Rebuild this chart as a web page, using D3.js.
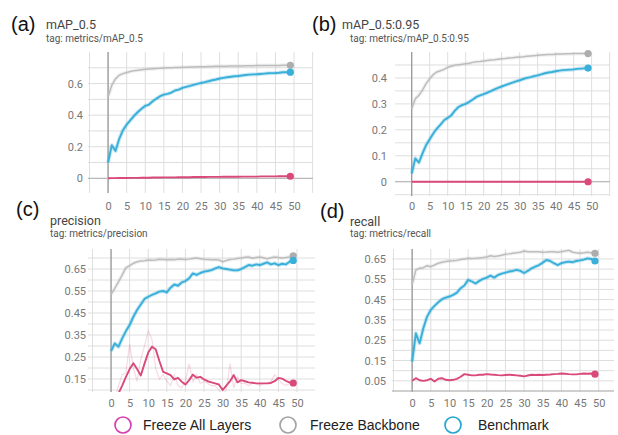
<!DOCTYPE html>
<html>
<head>
<meta charset="utf-8">
<script src="https://cdn.jsdelivr.net/npm/d3@7"></script>
<style>
  body { margin: 0; background: #fff; }
  svg { display: block; font-family: Roboto, "Liberation Sans", sans-serif; }
</style>
</head>
<body>
<svg id="chart" width="618" height="435"></svg>
<script>
// epochs 0..49
const epochs = d3.range(50);

// legend / series names
const seriesNames = ["Freeze All Layers", "Freeze Backbone", "Benchmark"];

// (a) mAP_0.5
const mapFreezeAll = [0.000, 0.001, 0.001, 0.002, 0.002, 0.002, 0.003, 0.003, 0.003, 0.004,
  0.004, 0.004, 0.005, 0.005, 0.005, 0.006, 0.006, 0.006, 0.006, 0.007,
  0.007, 0.007, 0.007, 0.008, 0.008, 0.008, 0.008, 0.009, 0.009, 0.009,
  0.009, 0.010, 0.010, 0.010, 0.010, 0.010, 0.011, 0.011, 0.011, 0.011,
  0.011, 0.012, 0.012, 0.012, 0.012, 0.012, 0.013, 0.013, 0.013, 0.013];
const mapBackbone = [0.516, 0.590, 0.630, 0.653, 0.663, 0.670, 0.677, 0.682, 0.685, 0.688,
  0.690, 0.692, 0.694, 0.696, 0.697, 0.699, 0.700, 0.701, 0.702, 0.702,
  0.703, 0.704, 0.705, 0.705, 0.706, 0.707, 0.707, 0.708, 0.708, 0.709,
  0.709, 0.710, 0.710, 0.711, 0.711, 0.712, 0.712, 0.713, 0.713, 0.713,
  0.714, 0.714, 0.714, 0.715, 0.715, 0.715, 0.715, 0.716, 0.716, 0.716];
const mapBenchmark = [0.100, 0.210, 0.173, 0.250, 0.305, 0.340, 0.368, 0.396, 0.420, 0.440,
  0.459, 0.467, 0.488, 0.505, 0.520, 0.530, 0.535, 0.543, 0.556, 0.562,
  0.573, 0.579, 0.585, 0.592, 0.598, 0.604, 0.609, 0.615, 0.621, 0.626,
  0.632, 0.636, 0.640, 0.643, 0.646, 0.648, 0.651, 0.654, 0.657, 0.658,
  0.659, 0.661, 0.663, 0.665, 0.666, 0.667, 0.669, 0.672, 0.672, 0.672];

// (b) mAP_0.5:0.95
const map95FreezeAll = [0.000, 0.000, 0.000, 0.000, 0.000, 0.000, 0.000, 0.000, 0.000, 0.000,
  0.000, 0.000, 0.000, 0.000, 0.000, 0.000, 0.000, 0.000, 0.000, 0.000,
  0.000, 0.000, 0.000, 0.000, 0.000, 0.000, 0.000, 0.000, 0.000, 0.000,
  0.000, 0.000, 0.000, 0.000, 0.000, 0.000, 0.000, 0.000, 0.000, 0.000,
  0.000, 0.000, 0.000, 0.000, 0.000, 0.000, 0.000, 0.000, 0.000, 0.000];
const map95Backbone = [0.282, 0.320, 0.333, 0.353, 0.378, 0.397, 0.413, 0.423, 0.428, 0.433,
  0.441, 0.445, 0.449, 0.451, 0.453, 0.455, 0.457, 0.460, 0.462, 0.463,
  0.465, 0.467, 0.469, 0.470, 0.472, 0.474, 0.475, 0.477, 0.478, 0.480,
  0.481, 0.482, 0.484, 0.485, 0.486, 0.487, 0.488, 0.489, 0.490, 0.490,
  0.491, 0.492, 0.492, 0.493, 0.493, 0.494, 0.494, 0.494, 0.494, 0.494];
const map95Benchmark = [0.032, 0.090, 0.074, 0.109, 0.141, 0.164, 0.186, 0.205, 0.220, 0.237,
  0.246, 0.256, 0.274, 0.288, 0.295, 0.300, 0.308, 0.317, 0.327, 0.333,
  0.338, 0.343, 0.349, 0.356, 0.362, 0.367, 0.372, 0.377, 0.382, 0.387,
  0.391, 0.396, 0.400, 0.403, 0.407, 0.410, 0.414, 0.418, 0.421, 0.423,
  0.426, 0.428, 0.430, 0.431, 0.432, 0.433, 0.435, 0.436, 0.437, 0.438];

// (c) precision
const precFreezeAll = [0.040, 0.060, 0.085, 0.120, 0.160, 0.195, 0.222, 0.195, 0.166, 0.220,
  0.270, 0.297, 0.285, 0.232, 0.183, 0.176, 0.168, 0.148, 0.155, 0.138,
  0.125, 0.145, 0.170, 0.156, 0.160, 0.148, 0.140, 0.135, 0.130, 0.125,
  0.100, 0.120, 0.140, 0.168, 0.135, 0.145, 0.140, 0.135, 0.133, 0.130,
  0.130, 0.130, 0.130, 0.132, 0.140, 0.155, 0.152, 0.142, 0.135, 0.132];
const precFreezeAllRaw = [0.020, 0.060, 0.120, 0.170, 0.180, 0.310, 0.200, 0.140, 0.240, 0.300,
  0.370, 0.330, 0.200, 0.150, 0.170, 0.140, 0.120, 0.170, 0.120, 0.110,
  0.140, 0.220, 0.140, 0.170, 0.130, 0.140, 0.130, 0.120, 0.120, 0.100,
  0.080, 0.100, 0.220, 0.110, 0.160, 0.130, 0.130, 0.120, 0.130, 0.130,
  0.120, 0.130, 0.130, 0.140, 0.170, 0.150, 0.130, 0.120, 0.130, 0.130];
const precBackbone = [0.535, 0.562, 0.592, 0.623, 0.656, 0.665, 0.676, 0.683, 0.686, 0.688,
  0.691, 0.690, 0.691, 0.694, 0.693, 0.692, 0.693, 0.692, 0.695, 0.694,
  0.693, 0.695, 0.698, 0.700, 0.697, 0.694, 0.693, 0.692, 0.692, 0.691,
  0.683, 0.689, 0.693, 0.695, 0.698, 0.700, 0.703, 0.705, 0.699, 0.702,
  0.705, 0.701, 0.696, 0.701, 0.705, 0.702, 0.700, 0.702, 0.705, 0.710];
const precBenchmark = [0.277, 0.312, 0.297, 0.335, 0.368, 0.395, 0.433, 0.464, 0.489, 0.514,
  0.524, 0.532, 0.539, 0.547, 0.550, 0.544, 0.565, 0.580, 0.574, 0.589,
  0.595, 0.608, 0.630, 0.623, 0.632, 0.638, 0.641, 0.645, 0.653, 0.659,
  0.653, 0.650, 0.647, 0.644, 0.644, 0.650, 0.659, 0.668, 0.665, 0.671,
  0.668, 0.674, 0.680, 0.671, 0.676, 0.668, 0.674, 0.671, 0.683, 0.689];

// (d) recall
const recFreezeAll = [0.050, 0.063, 0.053, 0.050, 0.053, 0.060, 0.047, 0.060, 0.063, 0.055,
  0.053, 0.055, 0.060, 0.070, 0.083, 0.080, 0.077, 0.077, 0.080, 0.080,
  0.083, 0.081, 0.080, 0.078, 0.077, 0.079, 0.080, 0.079, 0.077, 0.075,
  0.072, 0.076, 0.080, 0.079, 0.080, 0.079, 0.080, 0.081, 0.083, 0.084,
  0.086, 0.085, 0.083, 0.082, 0.082, 0.084, 0.086, 0.085, 0.086, 0.083];
const recBackbone = [0.525, 0.596, 0.604, 0.607, 0.617, 0.612, 0.620, 0.629, 0.634, 0.637,
  0.640, 0.641, 0.643, 0.647, 0.650, 0.653, 0.652, 0.653, 0.655, 0.657,
  0.660, 0.666, 0.662, 0.665, 0.668, 0.673, 0.675, 0.678, 0.680, 0.683,
  0.689, 0.686, 0.685, 0.686, 0.685, 0.683, 0.684, 0.686, 0.685, 0.683,
  0.686, 0.689, 0.693, 0.683, 0.680, 0.678, 0.680, 0.683, 0.681, 0.678];
const recBenchmark = [0.145, 0.284, 0.235, 0.309, 0.366, 0.399, 0.419, 0.437, 0.452, 0.460,
  0.465, 0.473, 0.484, 0.506, 0.519, 0.547, 0.539, 0.529, 0.542, 0.552,
  0.558, 0.568, 0.558, 0.571, 0.578, 0.583, 0.588, 0.591, 0.596, 0.591,
  0.581, 0.591, 0.604, 0.612, 0.620, 0.632, 0.645, 0.640, 0.629, 0.620,
  0.629, 0.634, 0.637, 0.634, 0.640, 0.643, 0.647, 0.653, 0.650, 0.640];

// y tick labels per panel
const mapTicks = [0, 0.2, 0.4, 0.6];
const map95Ticks = [0, 0.1, 0.2, 0.3, 0.4];
const precTicks = [0.15, 0.25, 0.35, 0.45, 0.55, 0.65];
const recTicks = [0.05, 0.15, 0.25, 0.35, 0.45, 0.55, 0.65];
const xTicks = [0, 5, 10, 15, 20, 25, 30, 35, 40, 45, 50];

const colors = { red: "#d9497a", gray: "#bdbdbd", blue: "#3aafd9" };
const legendColors = ["#d63fae", "#a3a3a3", "#23a5cf"];

const panels = [
  { letter: "(a)", title: "mAP_0.5", tag: "tag: metrics/mAP_0.5",
    red: mapFreezeAll, gray: mapBackbone, blue: mapBenchmark, ticks: mapTicks, fmt: d3.format(""),
    box: [88, 313, 52, 193], xd: [-5.4, 55.1], yd: [-0.093, 0.8], grid: 0.1,
    labelX: 83, xLabelY: 202, letterPos: [11, 31], titlePos: [46, 29], tagPos: [46, 42] },
  { letter: "(b)", title: "mAP_0.5:0.95", tag: "tag: metrics/mAP_0.5:0.95",
    red: map95FreezeAll, gray: map95Backbone, blue: map95Benchmark, ticks: map95Ticks, fmt: d3.format(""),
    box: [395, 610, 52, 196], xd: [-4.64, 55.1], yd: [-0.055, 0.5], grid: 0.05,
    labelX: 387, xLabelY: 202, letterPos: [312, 31], titlePos: [342, 29], tagPos: [350, 42] },
  { letter: "(c)", title: "precision", tag: "tag: metrics/precision",
    red: precFreezeAll, redRaw: precFreezeAllRaw, gray: precBackbone, blue: precBenchmark, ticks: precTicks, fmt: d3.format(".2f"),
    box: [88, 315, 249, 392], xd: [-6.2, 54.85], yd: [0.091, 0.741], grid: 0.05,
    labelX: 86, xLabelY: 399, letterPos: [16, 216], titlePos: [50, 225], tagPos: [50, 237] },
  { letter: "(d)", title: "recall", tag: "tag: metrics/recall",
    red: recFreezeAll, gray: recBackbone, blue: recBenchmark, ticks: recTicks, fmt: d3.format(".2f"),
    box: [392, 614, 249, 392], xd: [-5.4, 54.1], yd: [-0.005, 0.699], grid: 0.05,
    labelX: 386, xLabelY: 399, letterPos: [320, 218], titlePos: [350, 226], tagPos: [350, 237] }
];

const svg = d3.select("#chart");

panels.forEach(function(p, i) {
  const [left, right, top, bottom] = p.box;
  const x = d3.scaleLinear().domain(p.xd).range([left, right]);
  const y = d3.scaleLinear().domain(p.yd).range([bottom, top]);
  const g = svg.append("g");

  // grid
  const vLines = d3.range(-10, 60, 5).filter(v => v >= p.xd[0] && v <= p.xd[1]);
  const hLines = d3.range(Math.ceil(p.yd[0] / p.grid) * p.grid, p.yd[1], p.grid);
  g.selectAll(".vg").data(vLines).join("line")
    .attr("x1", d => x(d)).attr("x2", d => x(d))
    .attr("y1", top).attr("y2", bottom)
    .attr("stroke", "#dedede").attr("stroke-width", 1);
  g.selectAll(".hg").data(hLines).join("line")
    .attr("x1", left).attr("x2", right)
    .attr("y1", d => y(d)).attr("y2", d => y(d))
    .attr("stroke", "#dedede").attr("stroke-width", 1);

  // zero lines
  g.append("line")
    .attr("x1", x(0)).attr("x2", x(0)).attr("y1", top).attr("y2", bottom)
    .attr("stroke", "#9a9a9a").attr("stroke-width", 1.3);
  if (p.yd[0] < 0) {
    g.append("line")
      .attr("x1", left).attr("x2", right).attr("y1", y(0)).attr("y2", y(0))
      .attr("stroke", "#b0b0b0").attr("stroke-width", 1);
  }

  // axes labels
  g.append("g")
    .attr("transform", "translate(" + p.labelX + ",0)")
    .call(d3.axisLeft(y).tickValues(p.ticks).tickFormat(p.fmt).tickSize(0).tickPadding(0))
    .call(a => a.select(".domain").remove())
    .selectAll("text").attr("fill", "#777").style("font-size", "11px")
    .style("font-family", "Roboto, sans-serif");
  g.append("g")
    .attr("transform", "translate(0," + p.xLabelY + ")")
    .call(d3.axisBottom(x).tickValues(xTicks).tickSize(0).tickPadding(0))
    .call(a => a.select(".domain").remove())
    .selectAll("text").attr("fill", "#777").style("font-size", "11px")
    .style("font-family", "Roboto, sans-serif");

  // titles
  g.append("text").attr("x", p.letterPos[0]).attr("y", p.letterPos[1])
    .text(p.letter).attr("fill", "#111")
    .style("font-size", "20px").style("font-family", "'Liberation Sans', Arial, sans-serif");
  g.append("text").attr("x", p.titlePos[0]).attr("y", p.titlePos[1])
    .text(p.title).attr("fill", "#444").style("font-size", "12.5px");
  g.append("text").attr("x", p.tagPos[0]).attr("y", p.tagPos[1])
    .text(p.tag).attr("fill", "#555").style("font-size", "10px");

  // clip
  const clipId = "clip" + i;
  svg.append("clipPath").attr("id", clipId).append("rect")
    .attr("x", left).attr("y", top).attr("width", right - left).attr("height", bottom - top);

  const line = d3.line().x((d, j) => x(epochs[j])).y(d => y(d));
  const plot = g.append("g").attr("clip-path", "url(#" + clipId + ")");

  if (p.redRaw) {
    plot.append("path").datum(p.redRaw)
      .attr("fill", "none").attr("stroke", colors.red).attr("stroke-opacity", 0.2)
      .attr("stroke-width", 1.2).attr("d", line);
  }
  // soft halos (raw, unsmoothed band look)
  [["gray", 0.2], ["blue", 0.28]].forEach(function(s) {
    plot.append("path").datum(p[s[0]])
      .attr("fill", "none").attr("stroke", colors[s[0]]).attr("stroke-opacity", s[1])
      .attr("stroke-width", 4).attr("stroke-linejoin", "round").attr("d", line);
  });
  ["gray", "blue", "red"].forEach(function(k) {
    plot.append("path").datum(p[k])
      .attr("fill", "none").attr("stroke", colors[k])
      .attr("stroke-width", k === "gray" ? 1.5 : 1.9)
      .attr("stroke-linejoin", "round").attr("d", line);
  });
  ["gray", "blue", "red"].forEach(function(k) {
    const last = p[k].length - 1;
    g.append("circle")
      .attr("cx", x(epochs[last])).attr("cy", y(p[k][last])).attr("r", 3.6)
      .attr("fill", k === "gray" ? "#adadad" : colors[k]);
  });
});

// legend
const legendX = [123, 288, 453];
const legendTextX = [143, 310, 478];
seriesNames.forEach(function(name, i) {
  svg.append("circle").attr("cx", legendX[i]).attr("cy", 425).attr("r", 8)
    .attr("fill", "none").attr("stroke", legendColors[i]).attr("stroke-width", 1.7);
  svg.append("text").attr("x", legendTextX[i]).attr("y", 430)
    .text(name).attr("fill", "#222")
    .style("font-size", "14px").style("font-family", "'Liberation Sans', Arial, sans-serif");
});
</script>
</body>
</html>
